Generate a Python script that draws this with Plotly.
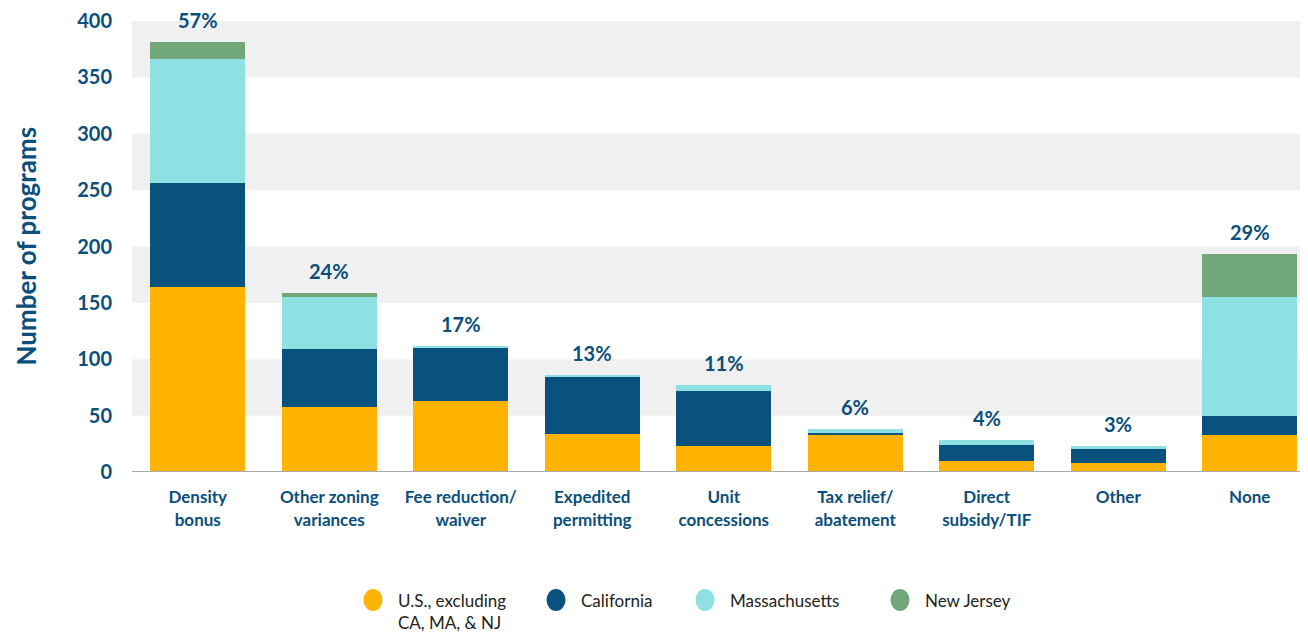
import plotly.graph_objects as go

categories = ["Density<br>bonus", "Other zoning<br>variances", "Fee reduction/<br>waiver",
              "Expedited<br>permitting", "Unit<br>concessions", "Tax relief/<br>abatement",
              "Direct<br>subsidy/TIF", "Other", "None"]
us_excl = [164, 58, 63, 34, 23, 33, 10, 8, 33]
california = [92, 51, 47, 50, 49, 2, 14, 12, 17]
massachusetts = [110, 46, 2, 2, 5, 3, 4, 3, 105]
new_jersey = [15, 4, 0, 0, 0, 0, 0, 0, 38]
pct_labels = ["57%", "24%", "17%", "13%", "11%", "6%", "4%", "3%", "29%"]
y_ticks = [0, 50, 100, 150, 200, 250, 300, 350, 400]

series_names = ["U.S., excluding<br>CA, MA, & NJ", "California", "Massachusetts", "New Jersey"]
series_values = [us_excl, california, massachusetts, new_jersey]
series_colors = ["#FDB300", "#0A527E", "#8EE1E3", "#71A679"]

BLUE = "#0B4F7C"
FONT = "Lato"
W, H = 1300, 627
ML, MT, MB = 124, 13, 163
PW, PH = W - ML, H - MT - MB

fig = go.Figure()
xs = list(range(len(categories)))
for name, vals, color in zip(series_names, series_values, series_colors):
    fig.add_trace(go.Bar(x=xs, y=vals, name=name.replace("<br>", " "),
                         marker=dict(color=color, line=dict(width=0)),
                         width=0.72, showlegend=False, hoverinfo="y"))

totals = [sum(v) for v in zip(*series_values)]
for i, (t, lab) in enumerate(zip(totals, pct_labels)):
    fig.add_annotation(x=i, y=t, text="<b>%s</b>" % lab, showarrow=False, yanchor="bottom",
                       yshift=8, font=dict(family=FONT, size=20, color=BLUE))

for lo in [50, 150, 250, 350]:
    fig.add_shape(type="rect", xref="paper", yref="y", x0=0, x1=1, y0=lo, y1=lo + 50,
                  fillcolor="#F0F0F0", line=dict(width=0), layer="below")

fig.add_annotation(xref="paper", yref="paper", x=(17 - ML) / PW, y=0.5, xanchor="center",
                   yanchor="middle", text="<b>Number of programs</b>", textangle=-90,
                   showarrow=False, borderpad=0,
                   font=dict(family=FONT, size=26, color=BLUE))

# manual legend with round markers
legend_cx = [365, 548, 697, 892]
legend_cy = 592
for name, color, cx in zip(series_names, series_colors, legend_cx):
    px = (cx - ML) / PW
    py = (MT + PH - legend_cy) / PH
    fig.add_shape(type="circle", xref="paper", yref="paper", xsizemode="pixel", ysizemode="pixel",
                  xanchor=px, yanchor=py, x0=-9.5, x1=9.5, y0=-11, y1=11,
                  fillcolor=color, line=dict(width=0))
    fig.add_annotation(xref="paper", yref="paper", x=(cx + 23 - ML) / PW, y=py,
                       xanchor="left", yanchor="top", yshift=12, align="left",
                       text=name, showarrow=False,
                       font=dict(family=FONT, size=17, color="#222222"))

fig.update_layout(
    barmode="stack",
    width=W, height=H,
    margin=dict(l=ML, r=0, t=MT, b=MB, autoexpand=False),
    plot_bgcolor="white", paper_bgcolor="white",
    font=dict(family=FONT, color=BLUE),
    showlegend=False,
    xaxis=dict(tickmode="array", tickvals=xs, ticktext=["<b>%s</b>" % c for c in categories],
               range=[-0.5, 8.443], showgrid=False, zeroline=False, showline=False,
               tickfont=dict(family=FONT, size=17, color=BLUE), ticks="outside",
               ticklen=10, tickcolor="rgba(0,0,0,0)", automargin=False),
    yaxis=dict(range=[0, 400], tickmode="array", tickvals=y_ticks,
               ticktext=["<b>%d</b>" % v for v in y_ticks],
               showgrid=False, zeroline=False, showline=False,
               tickfont=dict(family=FONT, size=20, color=BLUE), ticks="outside",
               ticklen=15, tickcolor="rgba(0,0,0,0)", automargin=False),
)
fig.add_shape(type="line", xref="paper", yref="y", x0=0, x1=1, y0=0, y1=0,
              line=dict(color="#AAAAAA", width=2))

fig.write_html("out.html")
